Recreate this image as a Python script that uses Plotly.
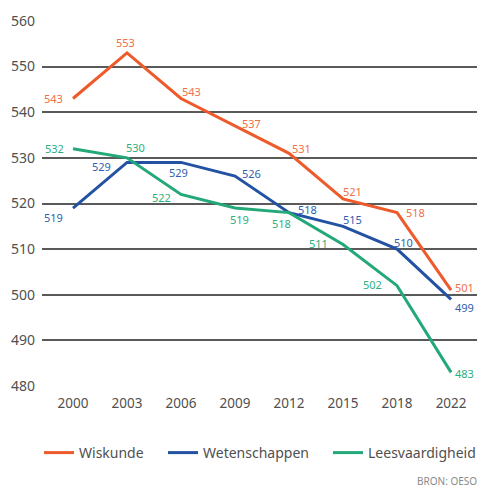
import plotly.graph_objects as go

years = ["2000", "2003", "2006", "2009", "2012", "2015", "2018", "2022"]
wiskunde = [543, 553, 543, 537, 531, 521, 518, 501]
wetenschappen = [519, 529, 529, 526, 518, 515, 510, 499]
leesvaardigheid = [532, 530, 522, 519, 518, 511, 502, 483]
y_ticks = [480, 490, 500, 510, 520, 530, 540, 550, 560]

series = [
    ("Wiskunde", wiskunde, "#EE5A2A", "#F07048", "legend", 39,
     [(-20, 0), (-2, 10), (10, 7), (16, 2), (12, 5), (9, 7), (18, 0), (13, 3)]),
    ("Wetenschappen", wetenschappen, "#2352A3", "#2F5FB0", "legend2", 163,
     [(-20, -9), (-26, -4), (-3, -10), (16, 3), (18, 3), (9, 7), (6, 7), (13, -8)]),
    ("Leesvaardigheid", leesvaardigheid, "#23A878", "#2BAF80", "legend3", 328,
     [(-19, 0), (8, 10), (-20, -3), (4, -11), (-8, -11), (-25, 1), (-25, 1), (13, -1)]),
]

FONT = "Noto Sans"
W, H = 477, 487
xpos = list(range(len(years)))

fig = go.Figure()
annotations = []
legends = {}
for name, vals, col, lcol, leg, legx, offs in series:
    fig.add_trace(go.Scatter(
        x=xpos, y=vals, mode="lines", name=name, legend=leg,
        line=dict(color=col, width=3), hoverinfo="skip",
    ))
    legends[leg] = dict(
        orientation="h", xref="container", yref="container",
        x=legx / W, y=1 - 453 / H, xanchor="left", yanchor="middle",
        font=dict(family=FONT, size=14, color="#505050"),
        itemwidth=30, bgcolor="rgba(0,0,0,0)",
    )
    for i, v in enumerate(vals):
        annotations.append(dict(
            x=xpos[i], y=v, xref="x", yref="y", text=str(v), showarrow=False,
            xshift=offs[i][0], yshift=offs[i][1],
            font=dict(family=FONT, size=11, color=lcol),
        ))

annotations.append(dict(
    xref="paper", yref="paper", x=(415 - 42) / 435, y=-(481 - 387) / 367,
    xanchor="left", yanchor="middle", text="BRON: OESO", showarrow=False,
    font=dict(family=FONT, size=10, color="#8a8a8a"),
))

fig.update_layout(
    width=W, height=H,
    margin=dict(l=42, r=0, t=20, b=100),
    paper_bgcolor="white", plot_bgcolor="white",
    font=dict(family=FONT, size=13, color="#505050"),
    showlegend=True,
    xaxis=dict(
        range=[-0.574, 7.48], tickmode="array", tickvals=xpos, ticktext=years,
        showgrid=False, zeroline=False, showline=False, ticks="",
        tickfont=dict(family=FONT, size=13.5, color="#505050"),
        ticklabelstandoff=6,
    ),
    yaxis=dict(
        range=[479.8, 560.2], tickmode="array", tickvals=y_ticks,
        showgrid=True, gridcolor="#5a5a5a", gridwidth=1.5,
        zeroline=False, showline=False, ticks="",
        tickfont=dict(family=FONT, size=14, color="#505050"),
        ticklabelstandoff=6,
    ),
    annotations=annotations,
    **legends,
)

fig.write_html("out.html", config={"displayModeBar": False},
               post_script="document.body.style.margin='0px';")
